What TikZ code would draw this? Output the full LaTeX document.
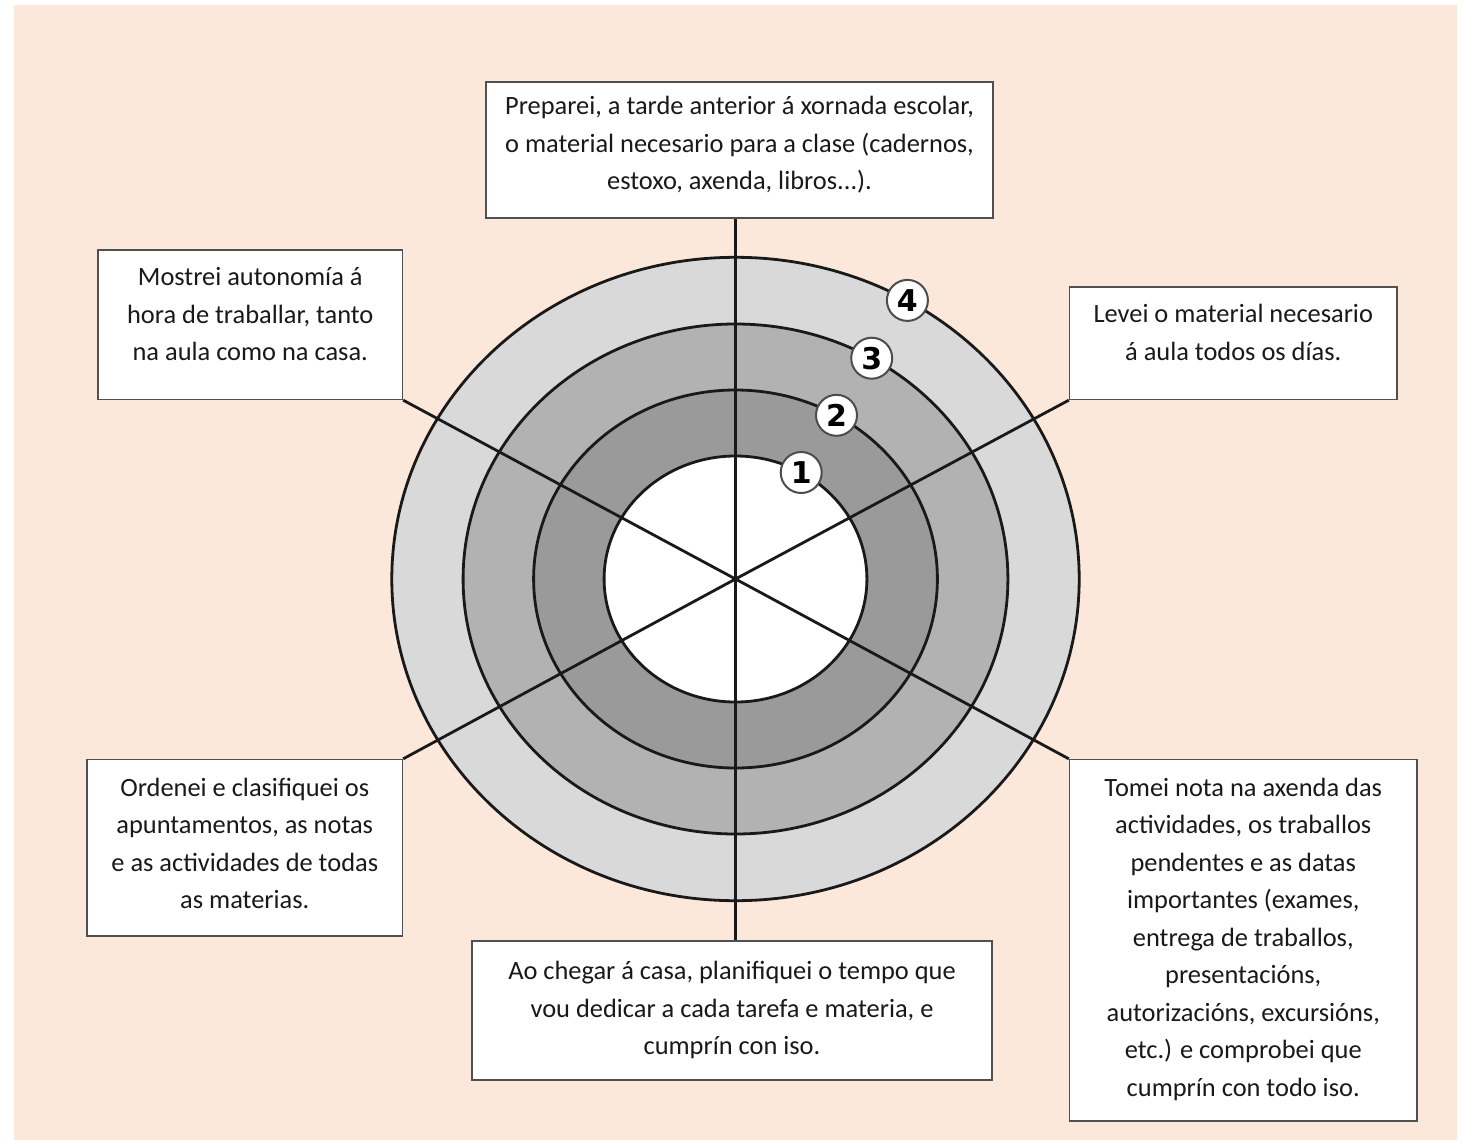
\documentclass[tikz,border=0pt]{standalone}
\usepackage{fontspec}
\setmainfont{Carlito}
\newfontfamily\numfont{DejaVu Sans}
\usetikzlibrary{calc,backgrounds}
\definecolor{bgpeach}{RGB}{252,232,218}
\definecolor{ringA}{RGB}{217,217,217}
\definecolor{ringB}{RGB}{178,178,178}
\definecolor{ringC}{RGB}{154,154,154}
\definecolor{boxline}{RGB}{80,80,80}
\tikzset{
  box/.style={draw=boxline, line width=1.3pt, fill=white, rectangle, inner sep=0pt},
  txt/.style={align=center, inner sep=0pt, font=\fontsize{26.4}{37.5}\selectfont, text=black!90},
  ringline/.style={draw=black!90, line width=2.8pt},
  spoke/.style={draw=black!90, line width=2.8pt},
  numc/.style={circle, fill=white, draw=black!70, line width=2pt, minimum size=41pt, inner sep=0pt,
    font=\numfont\bfseries\fontsize{30}{30}\selectfont}
}
\begin{document}
\begin{tikzpicture}[x=1pt,y=-1pt]
\useasboundingbox (0,0) rectangle (1463,1140);
\coordinate (c) at (735.5,579);
% boxes
\node[box, minimum width=507pt, minimum height=136pt] (bTop) at (739.5,150) {};
\node[box, minimum width=304.5pt, minimum height=149.5pt] (bUL) at (250.25,324.75) {};
\node[box, minimum width=327.5pt, minimum height=112.5pt] (bUR) at (1233.25,343.25) {};
\node[box, minimum width=315.5pt, minimum height=176.5pt] (bLL) at (244.75,847.75) {};
\node[box, minimum width=347.5pt, minimum height=361.5pt] (bLR) at (1243.25,940.25) {};
\node[box, minimum width=520pt, minimum height=139pt] (bBot) at (732,1010.5) {};
\begin{pgfonlayer}{background}
\fill[bgpeach] (14,5) rectangle (1457,1140);
\fill[ringA] (c) ellipse [x radius=343.7pt, y radius=321.7pt];
\fill[ringB] (c) ellipse [x radius=272.4pt, y radius=255pt];
\fill[ringC] (c) ellipse [x radius=201.9pt, y radius=189pt];
\fill[white] (c) ellipse [x radius=131.4pt, y radius=123pt];
\draw[ringline] (c) ellipse [x radius=343.7pt, y radius=321.7pt];
\draw[ringline] (c) ellipse [x radius=272.4pt, y radius=255pt];
\draw[ringline] (c) ellipse [x radius=201.9pt, y radius=189pt];
\draw[ringline] (c) ellipse [x radius=131.4pt, y radius=123pt];
\draw[spoke] (c |- bTop.south) -- (c |- bBot.north);
\draw[spoke] (c) -- (bUL.south east);
\draw[spoke] (c) -- (bUR.south west);
\draw[spoke] (c) -- (bLL.north east);
\draw[spoke] (c) -- (bLR.north west);
\end{pgfonlayer}
% number markers
\node[numc] (n1) at ($(c)+(65.7,-106.5)$) {1};
\node[numc] (n2) at ($(c)+(101,-163.7)$) {2};
\node[numc] (n3) at ($(c)+(136.2,-220.8)$) {3};
\node[numc] (n4) at ($(c)+(171.9,-278.6)$) {4};
% texts (anchor base = baseline of last line)
\node[txt, anchor=base] (tTop) at (739.5,189.5) {Preparei, a tarde anterior á xornada escolar,\\o material necesario para a clase (cadernos,\\estoxo, axenda, libros...).};
\node[txt, anchor=base] (tUL) at (250.25,360.5) {Mostrei autonomía á\\hora de traballar, tanto\\na aula como na casa.};
\node[txt, anchor=base] (tUR) at (1233.25,360) {Levei o material necesario\\á aula todos os días.};
\node[txt, anchor=base] (tLL) at (244.75,908.5) {Ordenei e clasifiquei os\\apuntamentos, as notas\\e as actividades de todas\\as materias.};
\node[txt, anchor=base] (tLR) at (1243.25,1096) {Tomei nota na axenda das\\actividades, os traballos\\pendentes e as datas\\importantes (exames,\\entrega de traballos,\\presentacións,\\autorizacións, excursións,\\etc.) e comprobei que\\cumprín con todo iso.};
\node[txt, anchor=base] (tBot) at (732,1054.5) {Ao chegar á casa, planifiquei o tempo que\\vou dedicar a cada tarefa e materia, e\\cumprín con iso.};
\end{tikzpicture}
\end{document}
